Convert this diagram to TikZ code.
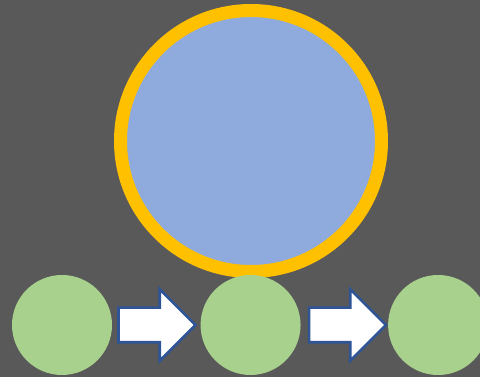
\documentclass[tikz,border=0pt]{standalone}
\usetikzlibrary{positioning,shapes.arrows}
\definecolor{slate}{HTML}{595959}
\definecolor{skyblue}{HTML}{8FAADC}
\definecolor{amber}{HTML}{FFC000}
\definecolor{leaf}{HTML}{A9D18E}
\definecolor{navy}{HTML}{2F5597}
\begin{document}
\begin{tikzpicture}[x=1pt,y=1pt,
		dot/.style={circle,fill=leaf,minimum size=100pt,inner sep=0pt},
		flow/.style={single arrow,draw=navy,fill=white,line width=2.6pt,minimum height=77pt,
			single arrow head extend=18.5pt,inner xsep=0pt,inner ysep=16pt}]
		\useasboundingbox (0,0) rectangle (480,377);
		\fill[slate] (0,0) rectangle (480,377);
		% grosser Kreis oben
		\node[circle,draw=amber,line width=13pt,fill=skyblue,minimum size=261pt,inner sep=0pt] (big) at (251,236) {};
		% Reihe unten
		\node[dot] (g1) at (62,52) {};
		\node[flow,right=5pt of g1] (a1) {};
		\node[dot,right=3pt of a1] (g2) {};
		\node[flow,right=7pt of g2] (a2) {};
		\node[dot,right=0pt of a2] (g3) {};
	\end{tikzpicture}
\end{document}
